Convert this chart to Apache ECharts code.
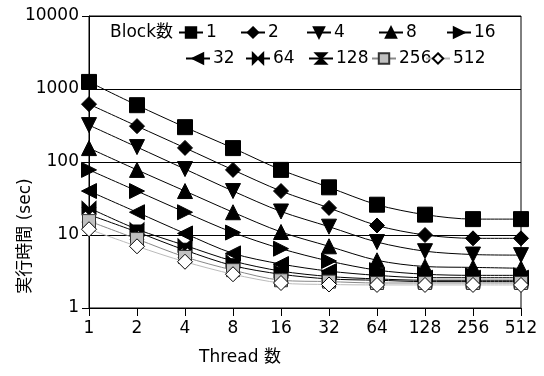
<!DOCTYPE html>
<html>
<head>
<meta charset="utf-8">
<script src="https://cdn.jsdelivr.net/npm/echarts@6/dist/echarts.min.js"></script>
<style>
  html, body { margin: 0; padding: 0; background: #fff; }
  #chart { width: 544px; height: 376px; }
</style>
</head>
<body>
<div id="chart"></div>
<script>
const threads = ['1', '2', '4', '8', '16', '32', '64', '128', '256', '512'];
const blockNames = ['1', '2', '4', '8', '16', '32', '64', '128', '256', '512'];

// 実行時間 (sec) per Block数
const block1 = [1250, 600, 300, 155, 78, 45, 26, 19, 16.5, 16.5];
const block2 = [620, 310, 156, 78, 40, 23.5, 13.5, 10, 9, 9];
const block4 = [320, 160, 80, 40, 21, 13, 8, 6, 5.4, 5.3];
const block8 = [155, 78, 40, 20.5, 11, 7, 4.5, 3.7, 3.6, 3.5];
const block16 = [78, 40, 20.5, 10.8, 6.5, 4.4, 3.3, 2.9, 2.8, 2.8];
const block32 = [40, 20.5, 10.5, 5.6, 4, 3.2, 2.8, 2.6, 2.6, 2.6];
const block64 = [23.5, 12, 7.2, 4.4, 3.2, 2.7, 2.5, 2.4, 2.4, 2.4];
const block128 = [19, 11, 6.2, 3.8, 2.9, 2.5, 2.4, 2.3, 2.3, 2.3];
const block256 = [15.5, 8.8, 5.0, 3.3, 2.4, 2.3, 2.2, 2.2, 2.2, 2.2];
const block512 = [12, 7, 4.3, 2.9, 2.2, 2.1, 2.07, 2.07, 2.07, 2.07];

const values = [block1, block2, block4, block8, block16, block32, block64, block128, block256, block512];

const FONT = '"DejaVu Sans", "Noto Sans CJK JP", sans-serif';
const BOWTIE = 'path://M0,0L5,5L0,10Z M10,0L5,5L10,10Z';
const HOURGLASS = 'path://M0,0L10,0L5,5Z M5,5L10,10L0,10Z';

const markers = [
  { symbol: 'rect', size: 15, rotate: 0, fill: '#000', stroke: '#000', line: '#000' },
  { symbol: 'diamond', size: 15, rotate: 0, fill: '#000', stroke: '#000', line: '#000' },
  { symbol: 'triangle', size: 15, rotate: 180, fill: '#000', stroke: '#000', line: '#000' },
  { symbol: 'triangle', size: 15, rotate: 0, fill: '#000', stroke: '#000', line: '#000' },
  { symbol: 'triangle', size: 15, rotate: -90, fill: '#000', stroke: '#000', line: '#000' },
  { symbol: 'triangle', size: 15, rotate: 90, fill: '#000', stroke: '#000', line: '#000' },
  { symbol: BOWTIE, size: [14, 13], rotate: 0, fill: '#000', stroke: '#000', line: '#000' },
  { symbol: HOURGLASS, size: [13, 14], rotate: 0, fill: '#000', stroke: '#000', line: '#000' },
  { symbol: 'rect', size: 13, rotate: 0, fill: '#c0c0c0', stroke: '#333', line: '#888' },
  { symbol: 'diamond', size: 15, rotate: 0, fill: '#fff', stroke: '#000', line: '#bbb' }
];

// legend item positions (left, top), two rows of five
const legendPos = [
  [178, 24], [240, 24], [306, 24], [378, 24], [446, 24],
  [185, 50], [245, 50], [308, 50], [371, 50], [425, 50]
];

const chart = echarts.init(document.getElementById('chart'), null, { renderer: 'canvas' });

const series = blockNames.map((name, i) => ({
  name: name,
  type: 'line',
  data: values[i],
  smooth: 0.3,
  symbol: markers[i].symbol,
  symbolSize: markers[i].size,
  symbolRotate: markers[i].rotate,
  showAllSymbol: true,
  lineStyle: { color: markers[i].line, width: 1 },
  itemStyle: { color: markers[i].fill, borderColor: markers[i].stroke, borderWidth: 1 },
  emphasis: { disabled: true },
  z: 2 + i
}));

const legends = blockNames.map((name, i) => ({
  data: [name],
  left: legendPos[i][0],
  top: legendPos[i][1],
  itemWidth: 24,
  itemHeight: 13,
  itemGap: 0,
  padding: 0,
  textStyle: { fontFamily: FONT, fontSize: 17, color: '#000', padding: [0, 0, 0, -2] },
  selectedMode: false
}));

chart.setOption({
  animation: false,
  backgroundColor: '#fff',
  grid: {
    left: 89, right: 23, top: 16, bottom: 68,
    show: true, borderColor: '#000', borderWidth: 1, backgroundColor: 'transparent'
  },
  legend: legends,
  xAxis: {
    type: 'category',
    data: threads,
    boundaryGap: false,
    axisLine: { lineStyle: { color: '#000', width: 1 } },
    axisTick: { show: true, length: 8, lineStyle: { color: '#000' } },
    axisLabel: { fontFamily: FONT, fontSize: 17, color: '#000', margin: 12 },
    splitLine: { show: false }
  },
  yAxis: {
    type: 'log',
    logBase: 10,
    min: 1,
    max: 10000,
    axisLine: { show: true, lineStyle: { color: '#000', width: 1 } },
    axisTick: { show: true, length: 7, lineStyle: { color: '#000' } },
    axisLabel: {
      fontFamily: FONT, fontSize: 17, color: '#000', margin: 10,
      formatter: (v) => String(Math.round(v))
    },
    splitLine: { show: true, lineStyle: { color: '#000', width: 1 } },
    minorTick: { show: false }
  },
  graphic: [
    {
      type: 'text',
      left: 110,
      top: 24,
      style: { text: 'Block数', fontFamily: FONT, fontSize: 17, fill: '#000' }
    },
    {
      type: 'text',
      x: 26,
      y: 236,
      rotation: Math.PI / 2,
      style: {
        text: '実行時間 (sec)',
        fontFamily: FONT,
        fontSize: 17,
        fill: '#000',
        align: 'center',
        verticalAlign: 'middle'
      }
    },
    {
      type: 'text',
      x: 240,
      y: 358,
      style: {
        text: 'Thread 数',
        fontFamily: FONT,
        fontSize: 17,
        fill: '#000',
        align: 'center',
        verticalAlign: 'middle'
      }
    }
  ],
  series: series
});
</script>
</body>
</html>
